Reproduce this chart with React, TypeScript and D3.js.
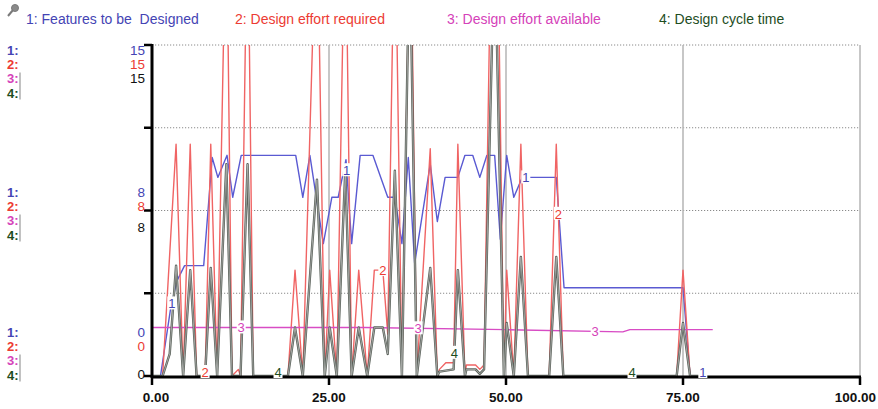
import React from "react";
import * as d3 from "d3";

// time / value pairs
const featuresDesigned: [number, number][] = [
  [0, 0], [1.2, 0], [2.6, 3.0], [3.5, 4.3], [4.6, 5.0], [7.3, 5.0], [8.5, 9.9], [9.3, 9.0],
  [10.6, 10.0], [11.4, 8.1], [12.6, 10.0], [20.3, 10.0], [21.3, 8.1], [22.3, 10.0], [24.2, 6.0],
  [25.4, 8.1], [26.3, 8.1], [27.4, 9.8], [28.2, 6.0], [29.4, 10.0], [31.2, 10.0], [33.3, 8.1],
  [34.3, 8.1], [35.3, 6.0], [36.2, 9.9], [37.1, 5.1], [39.3, 9.6], [40.3, 7.0], [41.4, 9.0],
  [43.2, 9.0], [44.2, 10.0], [45.3, 10.0], [46.3, 9.0], [47.3, 10.0], [48.4, 10.0], [49.2, 6.2],
  [50.1, 10.0], [51.1, 8.1], [52.3, 9.0], [57.1, 9.0], [58.2, 4.0], [75.0, 4.0], [76.0, 0], [78, 0],
];

const effortRequired: [number, number][] = [
  [0, 0], [1.5, 0], [3.4, 10.5], [4.4, 0], [5.4, 10.5], [6.3, 0], [7.5, 0], [8.3, 10.5], [9.2, 0],
  [10.5, 22], [11.3, 0], [12.2, 0.3], [12.5, 0], [13.5, 22], [14.3, 0], [19.2, 0], [20.2, 4.8],
  [21.3, 0], [23.3, 22], [24.4, 0], [25.1, 4.8], [26.1, 0], [27.3, 22], [28.2, 0], [29.2, 4.8],
  [30.4, 0], [31.4, 4.8], [32.6, 4.8], [33.3, 1.9], [34.3, 22], [35.3, 0], [36.5, 22], [37.4, 0],
  [39.3, 10.3], [40.3, 0], [40.6, 0.3], [41.5, 0.6], [42.6, 0.6], [43.2, 10.5], [44.2, 0],
  [44.4, 0.5], [45.7, 0.5], [46.3, 0.3], [46.9, 0.5], [48.4, 30], [49.7, 0], [50.1, 4.8], [51.1, 0],
  [52.1, 10.5], [53.1, 0], [56.1, 0], [57.1, 10.5], [58.1, 0], [74.1, 0], [75.0, 4.8], [76.0, 0],
  [77.5, 0],
];

const effortAvailable: [number, number][] = [
  [0, 2.2], [30, 2.2], [50, 2.1], [66.5, 2.0], [67.5, 2.1], [79.2, 2.1],
];

const cycleTime: [number, number][] = [
  [0, 0], [1.5, 0], [2.5, 1.0], [3.4, 5.0], [4.4, 0], [5.4, 4.8], [6.3, 0], [7.5, 0], [8.3, 4.9],
  [9.2, 0], [10.5, 9.6], [11.3, 0], [12.5, 0], [13.5, 9.6], [14.3, 0], [19.2, 0], [20.2, 2.2],
  [21.3, 0], [23.3, 8.9], [24.4, 0], [25.1, 2.2], [26.1, 0], [27.3, 9.3], [28.2, 0], [29.2, 2.2],
  [30.4, 0], [31.4, 2.2], [32.6, 2.2], [33.3, 1.0], [34.3, 9.3], [35.3, 0], [36.4, 20], [37.4, 0],
  [39.3, 4.9], [40.3, 0], [40.6, 0.2], [42.6, 0.3], [43.2, 4.8], [44.2, 0], [44.4, 0.3],
  [45.7, 0.3], [46.3, 0.1], [46.9, 0.3], [48.4, 20], [49.7, 0], [50.1, 2.4], [51.1, 0], [52.1, 5.4],
  [53.1, 0], [56.1, 0], [57.1, 5.4], [58.1, 0], [74.1, 0], [75.0, 2.4], [76.0, 0], [77.5, 0],
];

const legendNames = [
  "1: Features to be  Designed",
  "2: Design effort required",
  "3: Design effort available",
  "4: Design cycle time",
];
const xTicks = [0, 25, 50, 75, 100];
const yGrid = [0, 3.75, 7.5, 11.25, 15];
const scaleTop = ["15", "15", "15"];
const scaleMid = ["8", "8", "8"];
const scaleLow = ["0", "0", "0"];
// where the little series numbers sit on each line
const labelTimes = [
  [2.8, 27.5, 52.8, 77.8],
  [7.5, 32.6, 57.4],
  [12.6, 37.6, 62.6],
  [17.8, 42.7, 67.8],
];

const BLUE = "#4444b4";
const RED = "#ec3b33";
const PINK = "#d542b9";
const GREEN = "#1e4d1e";
const FONT = "'Liberation Sans', Arial, sans-serif";

const x = d3.scaleLinear().domain([0, 100]).range([152, 860]);
const y = d3.scaleLinear().domain([0, 15]).range([376, 45]);

const line = d3
  .line<[number, number]>()
  .x((d) => x(d[0]))
  .y((d) => y(d[1]));

const series = [featuresDesigned, effortRequired, effortAvailable, cycleTime];
const colors = [BLUE, RED, PINK, GREEN];

function valueAt(data: [number, number][], t: number) {
  for (let i = 1; i < data.length; i++) {
    if (t <= data[i][0]) {
      const [t0, v0] = data[i - 1];
      const [t1, v1] = data[i];
      return v0 + ((v1 - v0) * (t - t0)) / (t1 - t0);
    }
  }
  return data[data.length - 1][1];
}

export default function App() {
  const rowColors = [BLUE, RED, PINK, GREEN];
  const blocks = [
    { top: 50, nums: scaleTop, blackY: 78 },
    { top: 192, nums: scaleMid, blackY: 227 },
    { top: 332, nums: scaleLow, blackY: 374 },
  ];

  return (
    <svg
      width={878}
      height={409}
      style={{ position: "absolute", left: 0, top: 0, background: "#fff" }}
      fontFamily={FONT}
    >
      <defs>
        <clipPath id="plot">
          <rect x={152} y={45} width={708} height={333} />
        </clipPath>
      </defs>

      {/* pin icon */}
      <g stroke="#7a7a7a" fill="#8a8a8a">
        <circle cx={15} cy={8} r={3.5} />
        <line x1={13} y1={10} x2={8} y2={16} strokeWidth={2} />
      </g>

      {legendNames.map((name, i) => (
        <text
          key={name}
          x={[26, 235, 447, 659][i]}
          y={24}
          fontSize={14}
          fill={colors[i]}
          style={{ whiteSpace: "pre" }}
        >
          {name}
        </text>
      ))}

      {/* grid */}
      {yGrid.slice(1).map((v) => (
        <line key={v} x1={152} x2={860} y1={y(v)} y2={y(v)} stroke="#8a8a8a" strokeDasharray="1.2,1.8" />
      ))}
      {xTicks.slice(1).map((t) => (
        <line key={t} x1={x(t)} x2={x(t)} y1={45} y2={376} stroke="#b4b4b4" strokeWidth={1.5} />
      ))}

      {/* series */}
      <g clipPath="url(#plot)" fill="none" strokeLinejoin="round">
        <path d={line(featuresDesigned) || ""} stroke="#5a5ad2" strokeWidth={1.4} />
        <path d={line(effortRequired) || ""} stroke="#f06464" strokeWidth={1.4} />
        <path d={line(effortAvailable) || ""} stroke="#d84cc4" strokeWidth={1.4} />
        <path d={line(cycleTime) || ""} stroke="#5a615a" strokeWidth={2.4} />
        <path d={line(cycleTime) || ""} stroke="#b4b6b4" strokeWidth={0.8} />
      </g>

      {/* axes */}
      <line x1={152} x2={152} y1={44} y2={378} stroke="#000" strokeWidth={3} />
      {yGrid.map((v) => (
        <line key={v} x1={144} x2={152} y1={y(v)} y2={y(v)} stroke="#000" strokeWidth={2.5} />
      ))}
      <line x1={151} x2={861} y1={377} y2={377} stroke="#000" strokeWidth={3} />
      {xTicks.map((t, i) => (
        <g key={t}>
          <line x1={x(t)} x2={x(t)} y1={377} y2={385} stroke="#000" strokeWidth={2.5} />
          <text
            x={i === xTicks.length - 1 ? 876 : x(t) + (t === 0 ? 4 : 0)}
            y={402}
            fontSize={13.5}
            fontWeight="bold"
            textAnchor={i === xTicks.length - 1 ? "end" : "middle"}
            fill="#111"
          >
            {t.toFixed(2)}
          </text>
        </g>
      ))}

      {/* series labels on lines */}
      {labelTimes.map((times, si) =>
        times.map((t) => {
          const cx = x(t);
          const cy = Math.min(y(valueAt(series[si], t)), 372);
          return (
            <g key={`${si}-${t}`}>
              <rect x={cx - 4.5} y={cy - 7} width={9} height={13} fill="#fff" />
              <text x={cx} y={cy + 5} fontSize={13} textAnchor="middle" fill={colors[si]}>
                {si + 1}
              </text>
            </g>
          );
        })
      )}

      {/* scale blocks on the left */}
      {blocks.map((b, bi) => (
        <g key={bi}>
          {[0, 1, 2, 3].map((r) => (
            <text key={r} x={7} y={b.top + r * 14.2 + 5} fontSize={13} fontWeight="bold" fill={rowColors[r]}>
              {r + 1}:
            </text>
          ))}
          <line x1={20} x2={20} y1={b.top + 2 * 14.2 - 6} y2={b.top + 3 * 14.2 + 7} stroke="#999" strokeWidth={1.2} />
          <text x={145} y={b.top + 5} fontSize={13.5} textAnchor="end" fill={BLUE}>
            {b.nums[0]}
          </text>
          <text x={145} y={b.top + 14.2 + 5} fontSize={13.5} textAnchor="end" fill={RED}>
            {b.nums[1]}
          </text>
          <text x={145} y={b.blackY + 5} fontSize={13.5} textAnchor="end" fill="#111">
            {b.nums[2]}
          </text>
        </g>
      ))}
    </svg>
  );
}
